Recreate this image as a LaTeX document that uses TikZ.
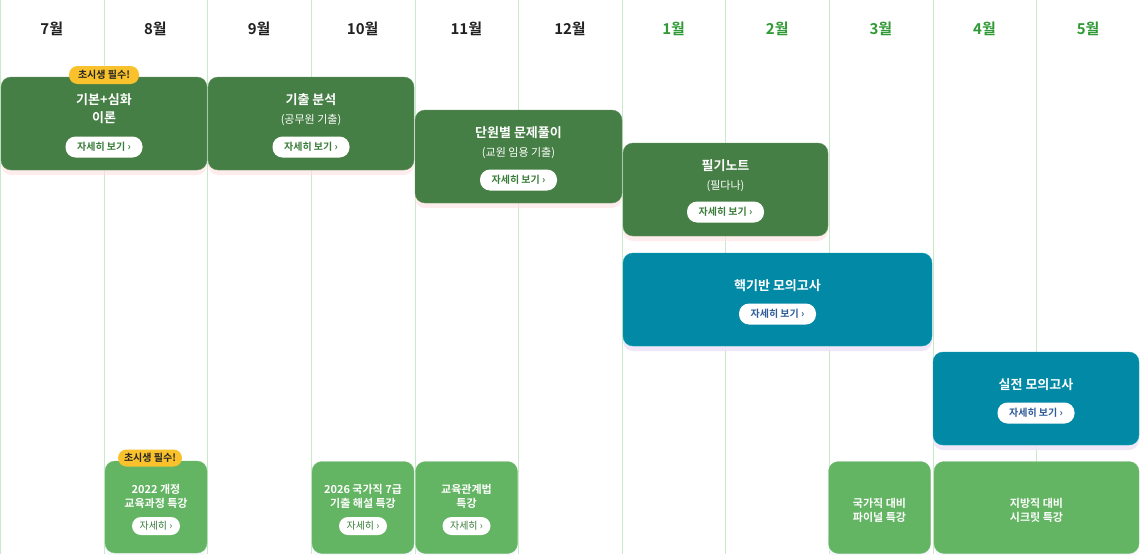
\documentclass[tikz,border=0pt]{standalone}
\usepackage{fontspec}
\setmainfont{Noto Sans CJK KR}[BoldFont={Noto Sans CJK KR Bold}]
\usetikzlibrary{positioning,shadows}

\definecolor{darkgreen}{HTML}{467F45}
\definecolor{lightgreen}{HTML}{63B463}
\definecolor{teal}{HTML}{0189A5}
\definecolor{badgeyellow}{HTML}{F9C12B}
\definecolor{gridline}{HTML}{C8EAC8}
\definecolor{monthgreen}{HTML}{2F9A35}
\definecolor{linkgreen}{HTML}{3B7D3B}
\definecolor{linkblue}{HTML}{2F5C98}

\begin{document}
\begin{tikzpicture}
  [x=1pt,y=-1pt,
   course/.style={rectangle,rounded corners=10pt,fill=darkgreen,draw=darkgreen!85!white,
inner sep=0pt,minimum height=93pt,
drop shadow={shadow xshift=0pt,shadow yshift=-5pt,fill=red!12,opacity=0.6}},
   mock/.style={course,fill=teal,draw=teal!80!cyan,
drop shadow={shadow xshift=0pt,shadow yshift=-5pt,fill=blue!10,opacity=0.6}},
   special/.style={rectangle,rounded corners=10pt,fill=lightgreen,draw=lightgreen!85!white,
inner sep=0pt,minimum height=92pt,
drop shadow={shadow xshift=0pt,shadow yshift=-4pt,fill=blue!6,opacity=0.5}},
   title/.style={text=white,font=\bfseries\fontsize{13}{18}\selectfont,align=center},
   sub/.style={text=white,font=\fontsize{11}{14}\selectfont},
   small/.style={text=white,font=\bfseries\fontsize{11}{14}\selectfont,align=center},
   detail/.style={rectangle,rounded corners=10pt,fill=white,text=linkgreen,
font=\bfseries\fontsize{10}{12}\selectfont,inner sep=0pt,minimum width=77pt,minimum height=21pt},
   minidetail/.style={detail,rounded corners=9pt,font=\fontsize{10}{12}\selectfont,
minimum width=48pt,minimum height=18pt},
   badge/.style={rectangle,rounded corners=8.5pt,fill=badgeyellow,text=black!85,
font=\bfseries\fontsize{10}{12}\selectfont,inner sep=0pt,minimum width=70pt,minimum height=18pt},
   month/.style={font=\bfseries\fontsize{15}{18}\selectfont,text=black!87}]

  \useasboundingbox (0,0) rectangle (1140,554);

  % grid of months
  \foreach \i in {0,...,11}
    \draw[gridline,line width=1pt] (\i*103.64+0.5,0) -- (\i*103.64+0.5,554);
  \foreach \m [count=\i from 0] in {7,8,9,10,11,12}
    \node[month] (m\m) at (\i*103.64+51.8,29) {\m{}월};
  \foreach \m [count=\i from 6] in {1,2,3,4,5}
    \node[month,text=monthgreen] (m\m) at (\i*103.64+51.8,29) {\m{}월};

  % main courses
  \node[course,minimum width=206pt] (theory) at (104,123.5) {};
  \node[title] (theorytitle) at (104,109) {기본+심화\\이론};
  \node[detail] (theorylink) at (104,147) {자세히 보기 ›};
  \node[badge] (theorybadge) at (104,75) {초시생 필수!};

  \node[course,minimum width=206pt] (past) at (311,123.5) {};
  \node[title] (pasttitle) at (311,100) {기출 분석};
  \node[sub] (pastsub) at (311,120) {(공무원 기출)};
  \node[detail] (pastlink) at (311,147) {자세히 보기 ›};

  \node[course,minimum width=207pt] (unit) at (518.5,156.5) {};
  \node[title] (unittitle) at (518.5,133) {단원별 문제풀이};
  \node[sub] (unitsub) at (518.5,153) {(교원 임용 기출)};
  \node[detail] (unitlink) at (518.5,180) {자세히 보기 ›};

  \node[course,minimum width=205pt] (note) at (725.5,189.5) {};
  \node[title] (notetitle) at (725.5,166) {필기노트};
  \node[sub] (notesub) at (725.5,186) {(필다나)};
  \node[detail] (notelink) at (725.5,212) {자세히 보기 ›};

  % mock exams
  \node[mock,minimum width=309pt] (coremock) at (777.5,299.5) {};
  \node[title] (coremocktitle) at (777.5,286) {핵기반 모의고사};
  \node[detail,text=linkblue] (coremocklink) at (777.5,314) {자세히 보기 ›};

  \node[mock,minimum width=206pt] (realmock) at (1036,398.5) {};
  \node[title] (realmocktitle) at (1036,385) {실전 모의고사};
  \node[detail,text=linkblue] (realmocklink) at (1036,413) {자세히 보기 ›};

  % special lectures
  \node[special,minimum width=102pt] (curri) at (156,507) {};
  \node[small] (curritext) at (156,496) {2022 개정\\교육과정 특강};
  \node[minidetail] (currilink) at (156,526) {자세히 ›};
  \node[badge,minimum width=64pt,minimum height=17pt] (curribadge) at (150,458) {초시생 필수!};

  \node[special,minimum width=102pt] (grade7) at (363,507.5) {};
  \node[small] (grade7text) at (363,496) {2026 국가직 7급\\기출 해설 특강};
  \node[minidetail] (grade7link) at (363,526) {자세히 ›};

  \node[special,minimum width=102pt] (law) at (466.5,507.5) {};
  \node[small] (lawtext) at (466.5,496) {교육관계법\\특강};
  \node[minidetail] (lawlink) at (466.5,526) {자세히 ›};

  \node[special,minimum width=102pt] (final) at (879.5,507.5) {};
  \node[small] (finaltext) at (879.5,510) {국가직 대비\\파이널 특강};

  \node[special,minimum width=205pt] (secret) at (1036.5,507.5) {};
  \node[small] (secrettext) at (1036.5,510) {지방직 대비\\시크릿 특강};

\end{tikzpicture}
\end{document}
